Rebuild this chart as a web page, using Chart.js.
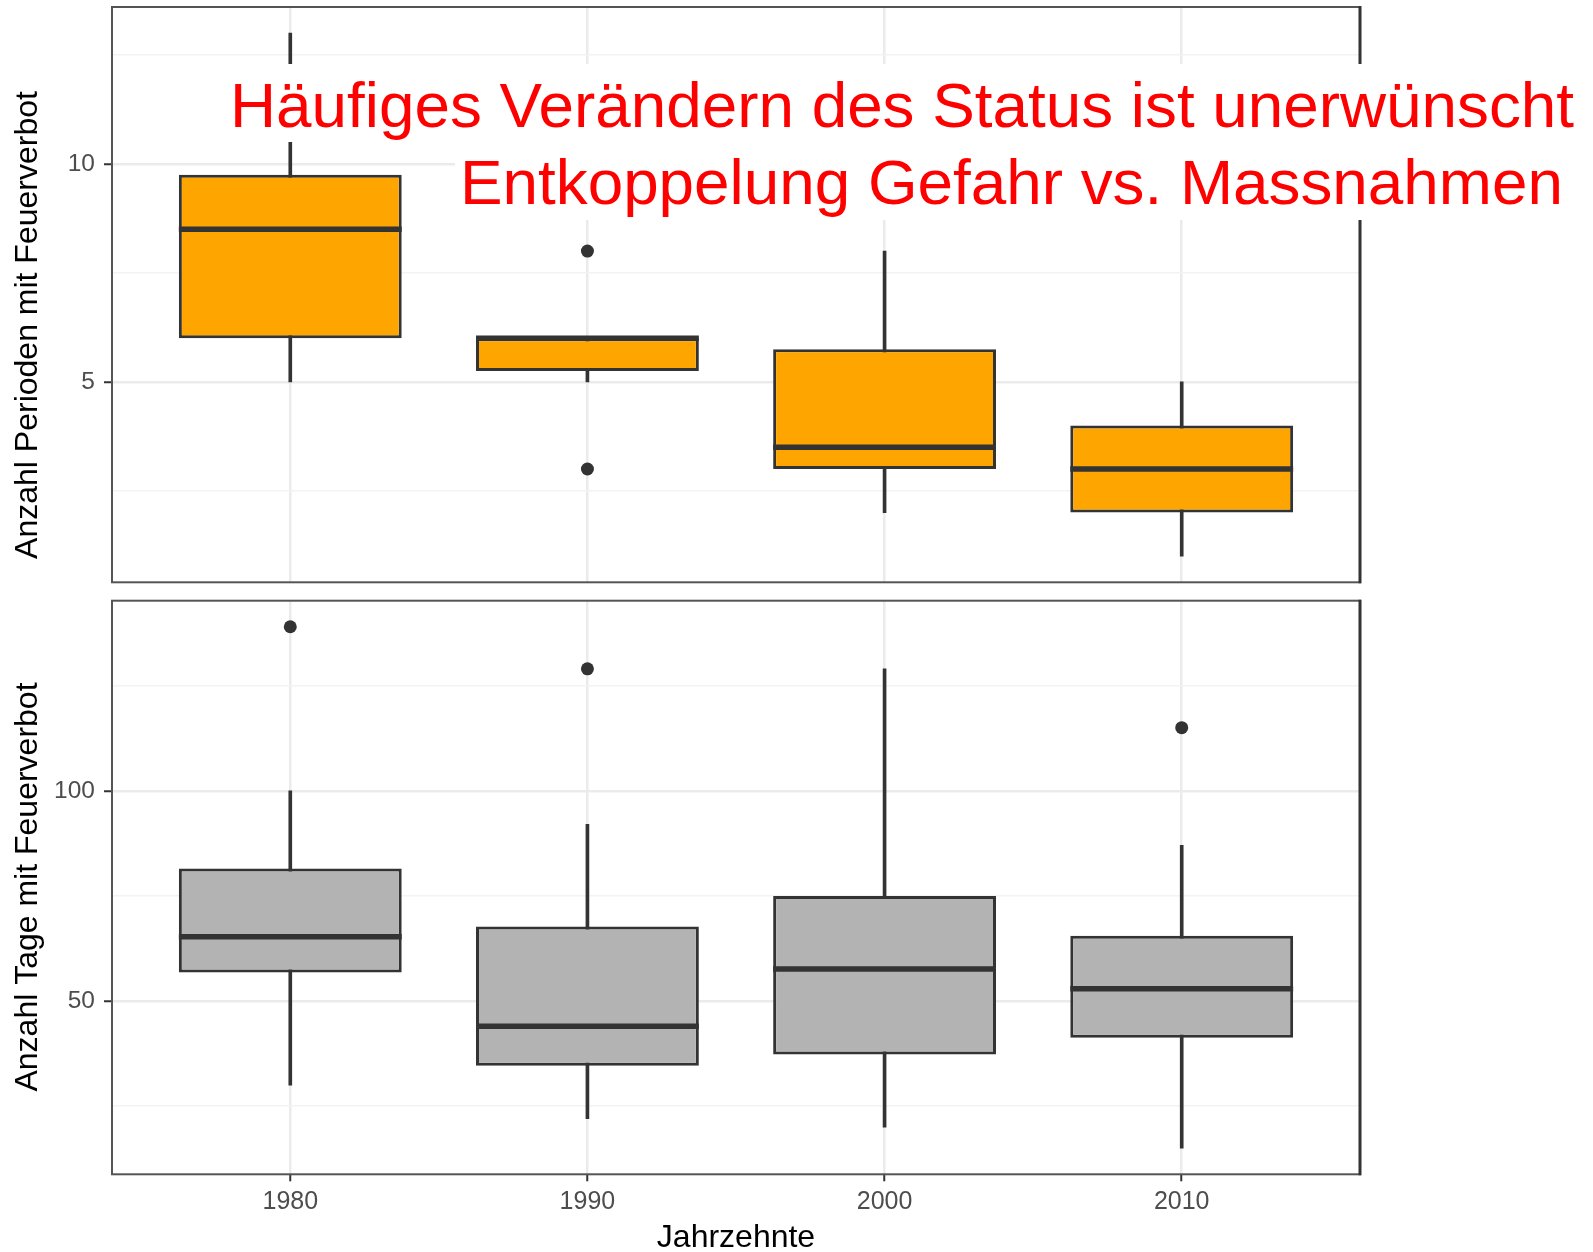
<!DOCTYPE html>
<html>
<head>
<meta charset="utf-8">
<script src="https://cdn.jsdelivr.net/npm/chart.js@4.4.1/dist/chart.umd.min.js"></script>
<style>
  html, body { margin: 0; padding: 0; background: #fff; }
  #wrap { position: relative; width: 1593px; height: 1252px; }
  canvas { position: absolute; left: 0; }
  #c1 { top: 0; }
  #c2 { top: 591px; }
</style>
</head>
<body>
<div id="wrap">
  <canvas id="c1" width="1593" height="591"></canvas>
  <canvas id="c2" width="1593" height="661"></canvas>
</div>
<script>
const decades = ['1980', '1990', '2000', '2010']

// Anzahl Perioden mit Feuerverbot
const perLow = [5, 5, 2, 1]
const perQ1 = [6, 5.25, 3, 2]
const perMed = [8.5, 6, 3.5, 3]
const perQ3 = [9.75, 6, 5.75, 4]
const perHigh = [13, 6, 8, 5]
const perOutliers = [[], [8, 3], [], []]

// Anzahl Tage mit Feuerverbot
const dayLow = [30, 22, 20, 15]
const dayQ1 = [56.8, 34.6, 37.3, 41.3]
const dayMed = [65.3, 44, 57.6, 52.9]
const dayQ3 = [81.5, 67.7, 75, 65.5]
const dayHigh = [100, 92, 129, 87]
const dayOutliers = [[139], [129], [], [115]]

const perTicks = [2.5, 5, 7.5, 10, 12.5]
const perLabels = [5, 10]
const dayTicks = [25, 50, 75, 100, 125]
const dayLabels = [50, 100]

const noteLines = [
  'Häufiges Verändern des Status ist unerwünscht',
  'Entkoppelung Gefahr vs. Massnahmen'
]

const FONT = '"Liberation Sans", Arial, Helvetica, sans-serif'
const BOX_WIDTH = 0.75
const EDGE = '#333333'

function halfBox(ctx) {
  const xs = ctx.chart.scales.x
  return Math.abs(xs.getPixelForValue(1 + BOX_WIDTH / 2) - xs.getPixelForValue(1))
}

function boxDatasets(low, q1, med, q3, high, outliers, fill) {
  const xs = decades.map((d, i) => i + 1)
  return [
    {
      type: 'bar', order: 4,
      data: xs.map((x, i) => ({ x, y: [low[i], high[i]] })),
      backgroundColor: EDGE, borderWidth: 0, grouped: false, barThickness: 3
    },
    {
      type: 'bar', order: 3,
      data: xs.map((x, i) => ({ x, y: [q1[i], q3[i]] })),
      backgroundColor: fill, borderColor: EDGE, borderWidth: 3, borderSkipped: false,
      grouped: false, categoryPercentage: 1, barPercentage: BOX_WIDTH
    },
    {
      type: 'line', order: 2, showLine: false,
      data: xs.map((x, i) => ({ x, y: med[i] })),
      pointStyle: 'line', pointBorderColor: EDGE, pointBorderWidth: 5.5, pointRadius: halfBox
    },
    {
      type: 'scatter', order: 1,
      data: outliers.flatMap((vals, i) => vals.map(v => ({ x: i + 1, y: v }))),
      pointRadius: 6.5, pointBackgroundColor: EDGE, pointBorderWidth: 0
    }
  ]
}

function yScale(min, max, ticks, labels) {
  const major = c => c.tick && labels.includes(c.tick.value)
  return {
    type: 'linear', min, max,
    afterBuildTicks: s => { s.ticks = ticks.map(v => ({ value: v })) },
    afterFit: s => { s.width = 112; s.paddingTop = 0; s.paddingBottom = 0 },
    border: { display: false },
    grid: {
      color: c => major(c) ? '#ebebeb' : '#f3f3f3',
      lineWidth: c => major(c) ? 2.5 : 1.5,
      tickColor: c => major(c) ? EDGE : 'rgba(0,0,0,0)',
      tickLength: 8, tickWidth: 2
    },
    ticks: {
      padding: 9, autoSkip: false, color: '#4d4d4d',
      font: { family: FONT, size: 24.5 },
      callback: v => labels.includes(v) ? String(v) : ''
    }
  }
}

function xScale(showLabels) {
  return {
    type: 'linear', min: 0.4, max: 4.6, offset: false,
    afterBuildTicks: s => { s.ticks = decades.map((d, i) => ({ value: i + 1 })) },
    afterFit: s => { s.height = showLabels ? 77.7 : 0; s.paddingLeft = 0; s.paddingRight = 0 },
    border: { display: false },
    grid: {
      offset: false, color: '#ebebeb', lineWidth: 2.5, drawTicks: showLabels,
      tickLength: 7, tickColor: EDGE, tickWidth: 2
    },
    ticks: {
      display: showLabels, padding: 6, autoSkip: false, maxRotation: 0, color: '#4d4d4d',
      font: { family: FONT, size: 25 },
      callback: v => decades[v - 1]
    }
  }
}

const decor = {
  id: 'decor',
  afterDatasetsDraw(chart) {
    const { ctx, chartArea: a } = chart
    ctx.save()
    ctx.strokeStyle = '#555'
    ctx.lineWidth = 2
    ctx.strokeRect(a.left, a.top, a.right - a.left, a.bottom - a.top)
    ctx.strokeStyle = EDGE
    ctx.lineWidth = 3
    ctx.beginPath()
    ctx.moveTo(a.right, a.top - 1)
    ctx.lineTo(a.right, a.bottom + 1)
    ctx.stroke()
    ctx.restore()
  },
  afterDraw(chart, args, o) {
    const { ctx, chartArea: a } = chart
    ctx.save()
    ctx.fillStyle = '#000'
    ctx.font = '32px ' + FONT
    ctx.textAlign = 'center'
    ctx.textBaseline = 'alphabetic'
    ctx.translate(37, o.yTitleY)
    ctx.rotate(-Math.PI / 2)
    ctx.fillText(o.yTitle, 0, 0)
    ctx.restore()

    if (o.xTitle) {
      ctx.save()
      ctx.fillStyle = '#000'
      ctx.font = '32px ' + FONT
      ctx.textAlign = 'center'
      ctx.fillText(o.xTitle, (a.left + a.right) / 2, 656)
      ctx.restore()
    }

    if (o.notes) {
      ctx.save()
      ctx.font = '63.8px ' + FONT
      ctx.textAlign = 'left'
      o.notes.forEach(n => {
        ctx.fillStyle = '#fff'
        ctx.fillRect(n.boxX, n.boxY, chart.width - n.boxX, 78)
        ctx.fillStyle = '#ff0000'
        ctx.fillText(n.text, n.x, n.y)
      })
      ctx.restore()
    }
  }
}

function makeChart(id, datasets, y, showX, plug, padTop, padBottom) {
  return new Chart(document.getElementById(id), {
    type: 'bar',
    data: { datasets },
    options: {
      responsive: false,
      animation: false,
      events: [],
      layout: { padding: { left: 0, right: 233, top: padTop, bottom: padBottom } },
      plugins: { legend: { display: false }, tooltip: { enabled: false }, decor: plug },
      scales: { x: xScale(showX), y }
    },
    plugins: [decor]
  })
}

makeChart('c1',
  boxDatasets(perLow, perQ1, perMed, perQ3, perHigh, perOutliers, '#FFA500'),
  yScale(0.4, 13.6, perTicks, perLabels), false,
  {
    yTitle: 'Anzahl Perioden mit Feuerverbot', yTitleY: 325,
    notes: [
      { text: noteLines[0], x: 230, y: 127, boxX: 224, boxY: 64 },
      { text: noteLines[1], x: 460, y: 204, boxX: 455, boxY: 142 }
    ]
  }, 7, 8.7)

makeChart('c2',
  boxDatasets(dayLow, dayQ1, dayMed, dayQ3, dayHigh, dayOutliers, '#B3B3B3'),
  yScale(8.8, 145.2, dayTicks, dayLabels), true,
  { yTitle: 'Anzahl Tage mit Feuerverbot', yTitleY: 296, xTitle: 'Jahrzehnte' },
  9.7, 0)
</script>
</body>
</html>
